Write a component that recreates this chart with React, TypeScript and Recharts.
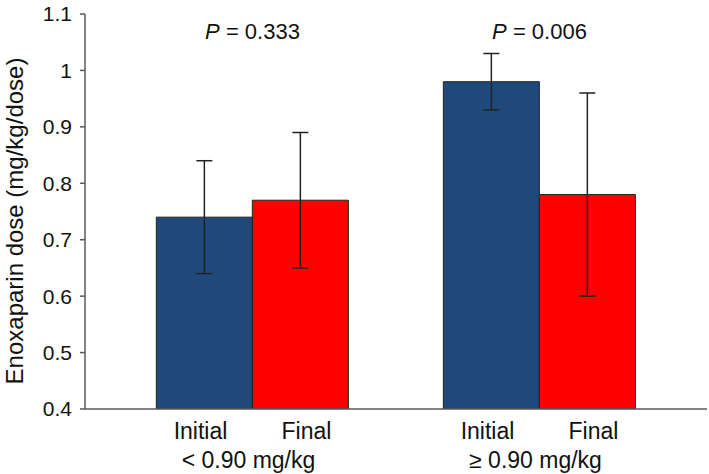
import { Bar, BarChart, ErrorBar, Label, ReferenceDot, XAxis, YAxis } from 'recharts';

const groups = ['< 0.90 mg/kg', '≥ 0.90 mg/kg'];
const initialDose = [0.74, 0.98];
const initialErr = [0.1, 0.05];
const finalDose = [0.77, 0.78];
const finalErr = [0.12, 0.18];
const pValues = ['0.333', '0.006'];
const yTicks = [0.4, 0.5, 0.6, 0.7, 0.8, 0.9, 1, 1.1];

const data = groups.map((g, i) => ({
  group: g,
  initial: initialDose[i],
  initialErr: initialErr[i],
  final: finalDose[i],
  finalErr: finalErr[i],
}));

const font = "'Liberation Sans', Arial, Helvetica, sans-serif";
const colors = { initial: '#1f497b', final: '#ff0000', axis: '#5a5a5a', text: '#111' };

// two-line category tick: Initial / Final under the bars, group name below
function GroupTick(props: any) {
  const { x, y, payload } = props;
  return (
    <g fontFamily={font} fill={colors.text} fontSize={23}>
      <text x={x - 52} y={y + 28} textAnchor="middle">Initial</text>
      <text x={x + 54} y={y + 28} textAnchor="middle">Final</text>
      <text x={x - 4} y={y + 57} textAnchor="middle">{payload.value}</text>
    </g>
  );
}

function PLabel(p: string) {
  return (props: any) => (
    <text x={props.cx} y={props.cy + 25} textAnchor="middle" fontFamily={font} fontSize={22} fill={colors.text}>
      <tspan fontStyle="italic">P</tspan>
      <tspan> = {p}</tspan>
    </text>
  );
}

export default function App() {
  return (
    <div style={{ position: 'absolute', left: 0, top: 0 }}>
      <BarChart
        width={709}
        height={474}
        data={data}
        margin={{ top: 14, right: 2, bottom: 0, left: 0 }}
        barCategoryGap="16.5%"
        barGap={0}
      >
        <XAxis
          dataKey="group"
          height={65}
          tickLine={false}
          tickSize={0}
          tick={<GroupTick />}
          padding={{ left: 24, right: 24 }}
          stroke={colors.axis}
          strokeWidth={1.5}
          interval={0}
        />
        <YAxis
          domain={[0.4, 1.1]}
          ticks={yTicks}
          width={85}
          allowDataOverflow
          tickSize={5}
          tickMargin={8}
          stroke={colors.axis}
          strokeWidth={1.5}
          tick={{ fontSize: 21, fill: colors.text, fontFamily: font }}
        >
          <Label
            content={() => (
              <text
                transform="translate(23,221) rotate(-90)"
                textAnchor="middle"
                fontFamily={font}
                fontSize={24}
                fill={colors.text}
              >
                Enoxaparin dose (mg/kg/dose)
              </text>
            )}
          />
        </YAxis>
        <Bar dataKey="initial" fill={colors.initial} stroke="#222" strokeWidth={1} isAnimationActive={false}>
          <ErrorBar dataKey="initialErr" width={8} stroke="#222" strokeWidth={1.5} />
        </Bar>
        <Bar dataKey="final" fill={colors.final} stroke="#222" strokeWidth={1} isAnimationActive={false}>
          <ErrorBar dataKey="finalErr" width={8} stroke="#222" strokeWidth={1.5} />
        </Bar>
        {groups.map((g, i) => (
          <ReferenceDot key={g} x={g} y={1.1} r={0} shape={PLabel(pValues[i])} />
        ))}
      </BarChart>
    </div>
  );
}
